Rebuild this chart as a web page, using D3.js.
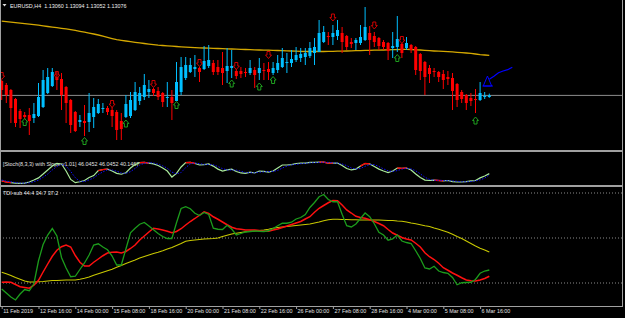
<!DOCTYPE html>
<html>
<head>
<meta charset="utf-8">
<script src="https://cdn.jsdelivr.net/npm/d3@7"></script>
<style>
  html, body { margin: 0; padding: 0; background: #000; }
  text { font-family: "Liberation Sans", Arial, sans-serif; }
</style>
</head>
<body>
<script>
// EURUSD H4, 11 Feb - 6 Mar 2019
var headerText = 'EURUSD,H4  1.13060 1.13094 1.13052 1.13076';
var stochText = '[Stoch(8,3,3) with Slope v1.01] 46.0452 46.0452 40.1467';
var tdiText = 'TDI-sub 44.4 34.7 37.2';

var timeLabels = ['11 Feb 2019', '12 Feb 16:00', '14 Feb 00:00', '15 Feb 08:00', '18 Feb 16:00',
  '20 Feb 00:00', '21 Feb 08:00', '22 Feb 16:00', '26 Feb 00:00', '27 Feb 08:00', '28 Feb 16:00',
  '4 Mar 00:00', '5 Mar 08:00', '6 Mar 16:00'];
var labelBars = [0, 8, 16, 24, 32, 40, 48, 56, 64, 72, 80, 88, 96, 104];

var bidPrice = 1.13076;

// open, high, low, close
var candles = [
  [1.1322,1.1323,1.1303,1.1313],[1.1318,1.1320,1.1300,1.1308],[1.1313,1.1314,1.1280,1.1295],
  [1.1304,1.1305,1.1276,1.1280],[1.1292,1.1294,1.1275,1.1284],[1.1288,1.1291,1.1284,1.1286],
  [1.1288,1.1295,1.1268,1.1282],[1.1285,1.1300,1.1280,1.1289],[1.1287,1.1320,1.1286,1.1306],
  [1.1296,1.1333,1.1295,1.1323],[1.1310,1.1335,1.1309,1.1326],[1.1317,1.1335,1.1316,1.1331],
  [1.1326,1.1332,1.1313,1.1323],[1.1324,1.1330,1.1293,1.1308],[1.1316,1.1317,1.1280,1.1300],
  [1.1303,1.1304,1.1270,1.1278],[1.1291,1.1292,1.1271,1.1272],[1.1281,1.1288,1.1276,1.1283],
  [1.1282,1.1298,1.1267,1.1280],[1.1281,1.1310,1.1271,1.1290],[1.1286,1.1305,1.1275,1.1296],
  [1.1290,1.1304,1.1289,1.1299],[1.1294,1.1300,1.1290,1.1295],[1.1295,1.1297,1.1288,1.1291],
  [1.1293,1.1296,1.1276,1.1287],[1.1291,1.1293,1.1263,1.1273],[1.1282,1.1290,1.1263,1.1274],
  [1.1286,1.1308,1.1285,1.1299],[1.1287,1.1311,1.1285,1.1303],[1.1293,1.1321,1.1292,1.1311],
  [1.1302,1.1316,1.1298,1.1310],[1.1306,1.1329,1.1303,1.1318],[1.1311,1.1323,1.1305,1.1314],
  [1.1314,1.1315,1.1307,1.1310],[1.1312,1.1316,1.1303,1.1306],[1.1310,1.1311,1.1296,1.1301],
  [1.1305,1.1321,1.1296,1.1306],[1.1306,1.1313,1.1283,1.1300],[1.1302,1.1341,1.1302,1.1321],
  [1.1311,1.1346,1.1308,1.1336],[1.1325,1.1346,1.1323,1.1338],[1.1331,1.1345,1.1330,1.1338],
  [1.1334,1.1348,1.1326,1.1336],[1.1335,1.1336,1.1321,1.1331],[1.1334,1.1357,1.1333,1.1342],
  [1.1337,1.1358,1.1335,1.1343],[1.1340,1.1343,1.1328,1.1331],[1.1336,1.1343,1.1328,1.1331],
  [1.1335,1.1351,1.1318,1.1330],[1.1332,1.1355,1.1320,1.1337],[1.1335,1.1353,1.1325,1.1337],
  [1.1332,1.1334,1.1324,1.1327],[1.1332,1.1336,1.1325,1.1329],[1.1331,1.1335,1.1326,1.1330],
  [1.1330,1.1343,1.1328,1.1335],[1.1333,1.1336,1.1315,1.1328],[1.1330,1.1345,1.1323,1.1335],
  [1.1333,1.1340,1.1323,1.1332],[1.1334,1.1341,1.1323,1.1331],[1.1330,1.1341,1.1328,1.1335],
  [1.1333,1.1348,1.1330,1.1340],[1.1336,1.1355,1.1335,1.1345],[1.1340,1.1350,1.1330,1.1341],
  [1.1340,1.1353,1.1336,1.1344],[1.1343,1.1356,1.1341,1.1348],[1.1345,1.1355,1.1341,1.1349],
  [1.1346,1.1355,1.1338,1.1350],[1.1347,1.1361,1.1345,1.1355],[1.1350,1.1365,1.1338,1.1356],
  [1.1351,1.1383,1.1351,1.1370],[1.1361,1.1377,1.1360,1.1371],[1.1367,1.1371,1.1358,1.1366],
  [1.1366,1.1378,1.1358,1.1370],[1.1367,1.1383,1.1363,1.1373],[1.1370,1.1376,1.1350,1.1361],
  [1.1367,1.1368,1.1353,1.1356],[1.1361,1.1365,1.1355,1.1359],[1.1360,1.1365,1.1353,1.1363],
  [1.1360,1.1378,1.1358,1.1366],[1.1363,1.1396,1.1362,1.1376],[1.1370,1.1377,1.1348,1.1363],
  [1.1367,1.1371,1.1356,1.1361],[1.1365,1.1366,1.1353,1.1357],[1.1361,1.1363,1.1353,1.1356],
  [1.1360,1.1361,1.1343,1.1352],[1.1355,1.1371,1.1345,1.1357],[1.1356,1.1387,1.1351,1.1364],
  [1.1359,1.1360,1.1345,1.1350],[1.1355,1.1366,1.1353,1.1360],[1.1358,1.1359,1.1350,1.1353],
  [1.1356,1.1357,1.1328,1.1333],[1.1349,1.1350,1.1323,1.1332],[1.1341,1.1342,1.1308,1.1326],
  [1.1335,1.1338,1.1320,1.1329],[1.1332,1.1335,1.1326,1.1331],[1.1331,1.1332,1.1321,1.1326],
  [1.1329,1.1333,1.1314,1.1323],[1.1326,1.1332,1.1318,1.1324],[1.1325,1.1330,1.1293,1.1312],
  [1.1319,1.1320,1.1296,1.1303],[1.1311,1.1313,1.1300,1.1304],[1.1308,1.1309,1.1293,1.1300],
  [1.1305,1.1310,1.1297,1.1302],[1.1304,1.1314,1.1290,1.1303],[1.1303,1.1321,1.1302,1.1310],
  [1.1306,1.1311,1.1304,1.1307],[1.13060,1.13094,1.13052,1.13076]
];

var maValues = [1.13818,1.13813,1.13809,1.13804,1.13799,1.13794,1.13789,1.13784,1.13778,1.13772,
  1.13765,1.13759,1.13753,1.13747,1.13741,1.13734,1.13726,1.13717,1.13708,1.13699,
  1.13690,1.13680,1.13668,1.13656,1.13644,1.13633,1.13626,1.13620,1.13613,1.13607,
  1.13601,1.13595,1.13589,1.13583,1.13578,1.13575,1.13571,1.13568,1.13565,1.13562,
  1.13559,1.13556,1.13554,1.13552,1.13550,1.13549,1.13547,1.13545,1.13544,1.13542,
  1.13540,1.13538,1.13536,1.13535,1.13533,1.13532,1.13530,1.13529,1.13528,1.13526,
  1.13525,1.13523,1.13522,1.13520,1.13518,1.13516,1.13515,1.13515,1.13515,1.13515,
  1.13515,1.13516,1.13517,1.13518,1.13519,1.13520,1.13522,1.13523,1.13524,1.13526,
  1.13527,1.13528,1.13529,1.13530,1.13531,1.13533,1.13534,1.13536,1.13537,1.13535,
  1.13532,1.13530,1.13527,1.13523,1.13520,1.13518,1.13516,1.13514,1.13511,1.13507,
  1.13503,1.13500,1.13496,1.13490,1.13484,1.13480,1.13477];

// signal arrows: [bar, price]
var upArrows = [[5,1.1281],[18,1.1262],[27,1.12795],[38,1.1298],[50,1.13195],[56,1.13165],
  [59,1.1323],[86,1.1345],[103,1.12825]];
var downArrows = [[0,1.1327],[12,1.1328],[24,1.1299],[33,1.1319],[43,1.1340],[51,1.1337],
  [58,1.1348],[72,1.13855],[81,1.13775],[87,1.1363]];

// projection drawn past the last bar
var projBars = [106, 107, 108, 109, 110, 111];
var projPrices = [1.13237, 1.13267, 1.13303, 1.13320, 1.13333, 1.13358];
var projMarkBar = 105.6;
var projMarkTop = 1.1327;
var projMarkBase = 1.1317;

var stochMain = [12,7,4,2,1,2,7,16,26,44,
  63,81,94,91,58,19,4,8,14,28,
  37,60,65,67,58,47,43,50,72,88,
  97,98,95,91,84,72,58,30,47,77,
  97,98,93,86,88,91,81,67,58,63,
  67,56,49,47,53,49,58,56,53,58,
  72,86,86,88,93,95,95,98,98,99,
  99,95,95,95,84,70,63,67,81,93,
  91,79,67,58,51,58,72,70,72,63,
  44,28,16,14,16,14,12,14,9,7,
  7,9,12,14,26,35,46.0452];
var stochSignal = [16,11,8,4,2,2,3,8,16,29,
  44,63,79,89,81,56,27,10,9,17,
  26,42,54,64,63,57,49,47,55,70,
  86,94,97,95,90,82,71,53,45,51,
  74,91,96,92,89,88,87,79,69,63,
  63,62,57,51,50,50,53,54,56,56,
  61,72,81,87,89,92,94,96,97,98,
  99,98,96,95,91,83,72,67,70,80,
  88,88,79,68,59,56,60,67,71,68,
  59,45,29,19,15,15,14,13,12,10,
  8,8,9,12,17,25,40.1467];
// bar ranges where the stoch line turns red
var stochRedRanges = [[0,2],[21,23],[30,32],[40,42],[69,72],[78,80],[86,88],[94,96]];

var tdiGreen = [29.6,28.0,26.4,25.2,27.6,29.4,28.9,31.7,40.9,47.4,
  51.2,53.8,50.8,42.2,38.0,34.5,34.7,37.4,40.0,43.2,
  47.2,47.7,46.4,45.3,42.8,39.2,39.2,45.6,52.1,53.9,
  55.5,56.2,54.8,53.3,51.8,50.6,49.8,49.8,56.1,61.8,
  62.5,61.7,59.9,59.0,60.2,59.4,53.9,53.5,53.4,55.1,
  53.6,51.2,51.8,52.4,52.6,52.8,52.7,52.6,52.9,53.8,
  54.9,55.9,55.9,56.3,57.6,58.2,59.4,62.2,64.2,66.5,
  67.4,65.4,64.5,64.5,59.5,54.9,54.4,55.6,57.8,60.0,
  58.5,55.7,52.3,51.2,49.1,49.6,51.2,48.8,48.2,47.8,
  44.9,41.8,38.0,37.6,38.7,36.8,36.2,35.9,34.2,31.3,
  32.1,32.2,32.3,33.4,35.9,36.8,37.2];
var tdiRed = [32.3,32.4,32.3,31.4,30.5,30.2,29.9,31.1,33.1,36.4,
  39.6,42.7,45.1,46.5,47.2,46.4,43.0,40.3,38.8,38.8,
  40.3,41.6,42.9,44.0,44.3,44.4,44.0,44.6,45.8,47.2,
  49.2,50.8,52.4,53.9,53.6,53.2,52.7,52.1,52.6,53.7,
  55.2,56.6,57.8,59.1,60.5,59.8,58.5,57.5,56.4,55.3,
  54.3,53.7,53.5,53.2,53.2,53.2,53.0,52.7,52.7,53.2,
  53.6,54.2,54.8,55.4,56.0,56.6,57.6,58.5,60.3,61.9,
  63.0,64.1,65.0,64.9,63.2,61.2,60.0,58.7,58.2,57.9,
  57.3,56.6,55.8,54.9,53.4,52.0,51.1,50.2,49.6,49.2,
  47.9,46.4,44.1,42.5,41.4,39.9,38.1,37.1,36.0,35.1,
  34.1,33.2,32.9,32.8,33.2,33.8,34.7];
var tdiYellow = [36.3,35.7,35.0,34.2,33.5,32.8,32.4,32.4,32.5,32.6,
  32.8,33.0,33.0,33.1,33.2,33.2,33.2,33.5,33.9,34.4,
  35.1,35.7,36.3,36.9,37.5,38.3,39.0,39.8,40.5,41.2,
  42.0,42.6,43.2,43.8,44.3,44.9,45.6,46.2,47.0,47.8,
  48.7,49.0,49.2,49.4,49.6,49.7,49.8,50.0,50.6,51.1,
  51.6,51.9,52.2,52.5,52.7,52.8,53.0,53.2,53.5,53.9,
  54.2,54.4,54.6,54.8,55.0,55.2,55.4,55.6,56.0,56.4,
  56.9,57.3,57.5,57.5,57.4,57.4,57.3,57.3,57.2,57.2,
  57.2,57.2,57.2,57.1,57.0,57.0,56.8,56.7,56.4,56.0,
  55.7,55.3,54.9,54.6,54.0,53.5,52.9,52.3,51.5,50.6,
  49.8,48.8,47.8,46.8,45.9,45.2,44.4];
var tdiLevels = [32, 50, 68];

var width = 625, height = 318;
var body = d3.select('body');
var svg = body.append('svg').attr('width', width).attr('height', height)
  .style('display', 'block').style('background', '#000');

var x = d3.scaleLinear().domain([0, 106]).range([1.7, 489.3]);
var yPrice = d3.scaleLinear().domain([1.1253, 1.1403]).range([150, 0]);
var yStoch = d3.scaleLinear().domain([0, 100]).range([183.5, 162]);
var yTdi = d3.scaleLinear().domain([32, 68]).range([283, 193]);

var bull = '#00bfff', bear = '#ff0000', frame = '#a0a0a0', fontSize = 5.4;

// ---- main window ----
svg.append('line')
  .attr('x1', 0).attr('x2', 622)
  .attr('y1', yPrice(bidPrice)).attr('y2', yPrice(bidPrice))
  .attr('stroke', '#8c8c8c').attr('stroke-width', 1);

svg.append('path')
  .datum(maValues)
  .attr('d', d3.line().x(function(d, i){ return x(i); }).y(function(d){ return yPrice(d); }))
  .attr('fill', 'none').attr('stroke', '#d4a800').attr('stroke-width', 1.3);

var bars = svg.append('g').selectAll('g').data(candles).enter().append('g');
bars.append('line')
  .attr('x1', function(d, i){ return x(i); }).attr('x2', function(d, i){ return x(i); })
  .attr('y1', function(d){ return yPrice(d[1]); }).attr('y2', function(d){ return yPrice(d[2]); })
  .attr('stroke', function(d){ return d[3] >= d[0] ? bull : bear; })
  .attr('stroke-width', 1);
bars.append('rect')
  .attr('x', function(d, i){ return x(i) - 1.5; })
  .attr('width', 3)
  .attr('y', function(d){ return yPrice(Math.max(d[0], d[3])); })
  .attr('height', function(d){ return Math.max(1, Math.abs(yPrice(d[0]) - yPrice(d[3]))); })
  .attr('fill', function(d){ return d[3] >= d[0] ? bull : bear; });

function arrowPath(cx, cy, up){
  var s = up ? -1 : 1;
  return 'M' + (cx - 1.5) + ',' + (cy - 3.5 * s) +
    'L' + (cx + 1.5) + ',' + (cy - 3.5 * s) +
    'L' + (cx + 1.5) + ',' + cy +
    'L' + (cx + 3) + ',' + cy +
    'L' + cx + ',' + (cy + 3.5 * s) +
    'L' + (cx - 3) + ',' + cy +
    'L' + (cx - 1.5) + ',' + cy + 'Z';
}
svg.append('g').selectAll('path').data(upArrows).enter().append('path')
  .attr('d', function(d){ return arrowPath(x(d[0]), yPrice(d[1]), true); })
  .attr('fill', 'none').attr('stroke', '#1fa01f').attr('stroke-width', 1);
svg.append('g').selectAll('path').data(downArrows).enter().append('path')
  .attr('d', function(d){ return arrowPath(x(d[0]), yPrice(d[1]), false); })
  .attr('fill', 'none').attr('stroke', '#d00000').attr('stroke-width', 1);

// projection
svg.append('path')
  .datum(projBars.map(function(b, i){ return [b, projPrices[i]]; }))
  .attr('d', d3.line().x(function(d){ return x(d[0]); }).y(function(d){ return yPrice(d[1]); }))
  .attr('fill', 'none').attr('stroke', '#0000ff').attr('stroke-width', 1.2);
var mx = x(projMarkBar);
svg.append('path')
  .attr('d', 'M' + mx + ',' + yPrice(projMarkTop) + 'L' + (mx + 4.2) + ',' + yPrice(projMarkBase) +
    'L' + (mx - 4.2) + ',' + yPrice(projMarkBase) + 'Z' +
    'M' + (mx - 5) + ',' + yPrice(projMarkBase) + 'L' + (mx + 5.5) + ',' + yPrice(projMarkBase))
  .attr('fill', 'none').attr('stroke', '#0000ff').attr('stroke-width', 1);

svg.append('path').attr('d', 'M2.5,4 L6.5,4 L4.5,6.5 Z').attr('fill', '#ddd');
svg.append('text').text(headerText)
  .attr('x', 10).attr('y', 7.6)
  .attr('fill', '#f0f0f0').style('font-size', fontSize + 'px')
  .attr('xml:space', 'preserve').style('white-space', 'pre');

// ---- stochastic window ----
svg.append('text').text(stochText)
  .attr('x', 3).attr('y', 166.3)
  .attr('fill', '#e0e0e0').style('font-size', fontSize + 'px');

var stochLine = d3.line().x(function(d){ return x(d[0]); }).y(function(d){ return yStoch(d[1]); });
svg.append('path')
  .datum(stochMain.map(function(v, i){ return [i, v]; }))
  .attr('d', stochLine)
  .attr('fill', 'none').attr('stroke', '#a8e89a').attr('stroke-width', 1.2);
stochRedRanges.forEach(function(r){
  var pts = [];
  for (var i = r[0]; i <= r[1]; i++) pts.push([i, stochMain[i]]);
  svg.append('path').datum(pts).attr('d', stochLine)
    .attr('fill', 'none').attr('stroke', '#ff0000').attr('stroke-width', 1.3);
});
svg.append('path')
  .datum(stochSignal.map(function(v, i){ return [i, v]; }))
  .attr('d', stochLine)
  .attr('fill', 'none').attr('stroke', '#1010ff').attr('stroke-width', 1)
  .attr('stroke-dasharray', '1.5,1.5');

// ---- TDI window ----
svg.append('g').selectAll('line').data(tdiLevels).enter().append('line')
  .attr('x1', 0).attr('x2', 622)
  .attr('y1', function(d){ return yTdi(d); }).attr('y2', function(d){ return yTdi(d); })
  .attr('stroke', '#8a8a8a').attr('stroke-width', 1).attr('stroke-dasharray', '1,2');

svg.append('text').text(tdiText)
  .attr('x', 3).attr('y', 194.6)
  .attr('fill', '#e8e8e8').style('font-size', fontSize + 'px');

var tdiLine = d3.line().x(function(d, i){ return x(i); }).y(function(d){ return yTdi(d); });
svg.append('path').datum(tdiYellow).attr('d', tdiLine)
  .attr('fill', 'none').attr('stroke', '#c8c800').attr('stroke-width', 1.1);
svg.append('path').datum(tdiRed).attr('d', tdiLine)
  .attr('fill', 'none').attr('stroke', '#ff1010').attr('stroke-width', 1.5);
svg.append('path').datum(tdiGreen).attr('d', tdiLine)
  .attr('fill', 'none').attr('stroke', '#1c9c1c').attr('stroke-width', 1.3);

// ---- frame and separators ----
svg.append('rect').attr('x', 0).attr('y', 150).attr('width', 623).attr('height', 2).attr('fill', frame);
svg.append('rect').attr('x', 0).attr('y', 185).attr('width', 623).attr('height', 2).attr('fill', frame);
svg.append('rect').attr('x', 0).attr('y', 0).attr('width', 1).attr('height', 306).attr('fill', frame);
svg.append('rect').attr('x', 622).attr('y', 0).attr('width', 1).attr('height', 306).attr('fill', frame);

// ---- time axis ----
var axis = d3.axisBottom(x)
  .tickValues(labelBars)
  .tickFormat(function(d, i){ return timeLabels[i]; })
  .tickSize(3)
  .tickSizeOuter(0);
var gAxis = svg.append('g').attr('transform', 'translate(0,306)').call(axis);
gAxis.select('.domain').attr('d', 'M0,0.5H623').attr('stroke', frame);
gAxis.selectAll('.tick line').attr('stroke', frame);
gAxis.selectAll('.tick text')
  .attr('x', 1).attr('y', 3).attr('dy', '0.71em')
  .attr('text-anchor', 'start')
  .attr('fill', '#e0e0e0')
  .style('font-size', fontSize + 'px')
  .style('font-family', '"Liberation Sans", Arial, sans-serif');
</script>
</body>
</html>
